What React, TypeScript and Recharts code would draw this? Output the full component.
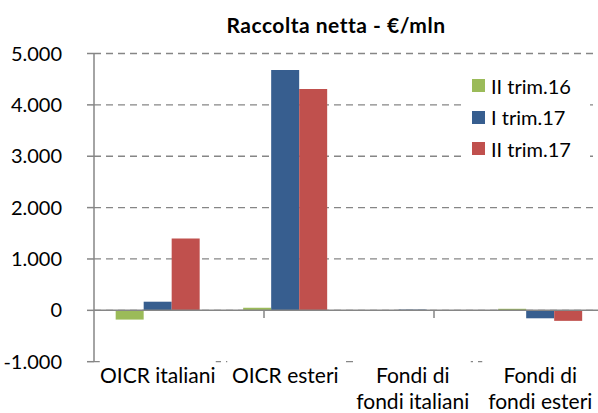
import {
  Bar,
  BarChart,
  CartesianGrid,
  Legend,
  ReferenceLine,
  XAxis,
  YAxis,
} from "recharts"

const categories = ["OICR italiani", "OICR esteri", "Fondi di\nfondi italiani", "Fondi di\nfondi esteri"]
const trim16II = [-180, 50, 2, 30]
const trim17I = [168, 4677, 15, -155]
const trim17II = [1400, 4310, -10, -205]
const yTicks = [-1000, 0, 1000, 2000, 3000, 4000, 5000]

const series = [
  { key: "a", name: "II trim.16", values: trim16II, color: "#9BBB59" },
  { key: "b", name: "I trim.17", values: trim17I, color: "#375E8F" },
  { key: "c", name: "II trim.17", values: trim17II, color: "#C0504D" },
]

const data = categories.map((cat, i) => {
  const row: Record<string, string | number> = { cat }
  series.forEach((s) => {
    row[s.key] = s.values[i]
  })
  return row
})

const FONT = "Lato, 'Open Sans', sans-serif"
const AXIS = "#868686"

const fmt = (v: number) => v.toString().replace(/\B(?=(\d{3})+(?!\d))/g, ".")

/* ---------- category tick (two lines, white box like excel) ---------- */
function CatTick({ x, y, payload }: { x: number; y: number; payload: { value: string } }) {
  const lines = String(payload.value).split("\n")
  return (
    <g>
      <rect x={x - 58} y={y - 3} width={116} height={8} fill="#fff" />
      <text x={x} y={y + 21} textAnchor="middle" fontSize={21} fontFamily={FONT} fill="#000">
        {lines.map((l, i) => (
          <tspan key={i} x={x} dy={i === 0 ? 0 : 26.5}>
            {l}
          </tspan>
        ))}
      </text>
    </g>
  )
}

function LegendBox() {
  return (
    <div style={{ background: "#fff", paddingBottom: 6 }}>
      {series.map((s) => (
        <div
          key={s.key}
          style={{ display: "flex", alignItems: "center", height: 31.5, fontFamily: FONT, fontSize: 20, color: "#000", whiteSpace: "nowrap" }}
        >
          <span style={{ display: "inline-block", width: 13, height: 13, background: s.color, marginLeft: 10, marginRight: 6 }} />
          {s.name}
        </div>
      ))}
    </div>
  )
}

export default function App() {
  const boundaries = categories.map((_, i) => i + 1)
  return (
    <div
      style={{
        position: "fixed",
        left: 0,
        top: 0,
        width: 598,
        height: 413,
        overflow: "hidden",
        background: "#fff",
      }}
    >
      <div
        style={{
          position: "absolute",
          left: 0,
          top: 12,
          width: 672,
          textAlign: "center",
          fontFamily: FONT,
          fontWeight: 700,
          fontSize: 21,
          letterSpacing: 0.5,
          lineHeight: "26px",
          color: "#000",
          zIndex: 2,
        }}
      >
        Raccolta netta - €/mln
      </div>
      <BarChart
        width={610}
        height={413}
        data={data}
        margin={{ top: 53.5, right: 6, left: 0, bottom: 0 }}
        barCategoryGap="17%"
        barGap={0}
      >
        <CartesianGrid vertical={false} stroke={AXIS} strokeWidth={1.3} strokeDasharray="7 5" />
        <XAxis
          xAxisId="cat"
          dataKey="cat"
          height={51.3}
          axisLine={false}
          tickLine={false}
          tickSize={0}
          tickMargin={0}
          interval={0}
          tick={(p: any) => <CatTick {...p} />}
        />
        <XAxis xAxisId="num" type="number" domain={[0, categories.length]} hide />
        <YAxis
          width={94}
          domain={[-1000, 5000]}
          ticks={yTicks}
          interval={0}
          tickFormatter={fmt}
          axisLine={{ stroke: AXIS, strokeWidth: 1.5 }}
          tickLine={{ stroke: AXIS, strokeWidth: 1.5 }}
          tickSize={7}
          tickMargin={25}
          tick={{ fontSize: 20, fontFamily: FONT, fill: "#000" }}
        />
        {series.map((s) => (
          <Bar key={s.key} xAxisId="cat" dataKey={s.key} name={s.name} fill={s.color} isAnimationActive={false} />
        ))}
        <ReferenceLine xAxisId="cat" y={0} stroke={AXIS} strokeWidth={1.5} />
        {boundaries.map((b) => (
          <ReferenceLine
            key={b}
            xAxisId="num"
            segment={[
              { x: b, y: 0 },
              { x: b, y: -150 },
            ]}
            stroke={AXIS}
            strokeWidth={1.5}
          />
        ))}
        <Legend
          layout="vertical"
          verticalAlign="middle"
          align="center"
          wrapperStyle={{ left: 462, top: 70, width: 128, right: "auto", bottom: "auto" }}
          content={() => <LegendBox />}
        />
      </BarChart>
    </div>
  )
}
